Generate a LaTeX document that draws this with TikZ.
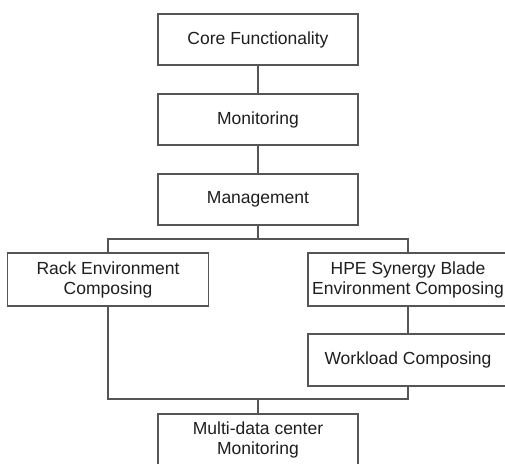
\documentclass[tikz,border=0pt]{standalone}
\usepackage{fontspec}
\setmainfont{Liberation Sans}
\usepackage{tikz}
\usepackage{xcolor}
\usetikzlibrary{calc}

\definecolor{linegray}{HTML}{555555}
\definecolor{textgray}{HTML}{1E1E1E}

\begin{document}
\begin{tikzpicture}[x=1pt, y=-1pt,
    box/.style={draw=linegray, line width=1.1pt, fill=white,
      text=textgray, align=center, inner sep=0pt,
      font=\fontsize{17.5}{20}\selectfont,
      minimum width=200pt, minimum height=51pt},
    link/.style={draw=linegray, line width=1.1pt}]
    \path [use as bounding box] (0, 0) rectangle (505, 463);
    \clip (0, 0) rectangle (505, 463);

    \node[box] (core) at (258, 39.5) {Core Functionality};
    \node[box] (mon) at (258, 119.5) {Monitoring};
    \node[box] (mgmt) at (258, 199.5) {Management};
    \node[box, minimum width=201pt, minimum height=53pt] (rack)
      at (108, 279.5) {Rack Environment\\Composing};
    \node[box, minimum height=53pt] (hpe)
      at (408, 279.5) {HPE Synergy Blade\\Environment Composing};
    \node[box, minimum height=52pt] (work)
      at (408, 360) {Workload Composing};
    \node[box] (multi) at (258, 439.5) {Multi-data center\\Monitoring};

    \coordinate (bustop) at (258, 239);
    \coordinate (busbot) at (258, 399);

    \draw[link] (core) -- (mon);
    \draw[link] (mon) -- (mgmt);
    \draw[link] (mgmt) -- (bustop);
    \draw[link] (rack.north) |- (bustop) -| (hpe.north);
    \draw[link] (hpe) -- (work);
    \draw[link] (rack.south) |- (busbot) -| (work.south);
    \draw[link] (busbot) -- (multi);
  \end{tikzpicture}
\end{document}
